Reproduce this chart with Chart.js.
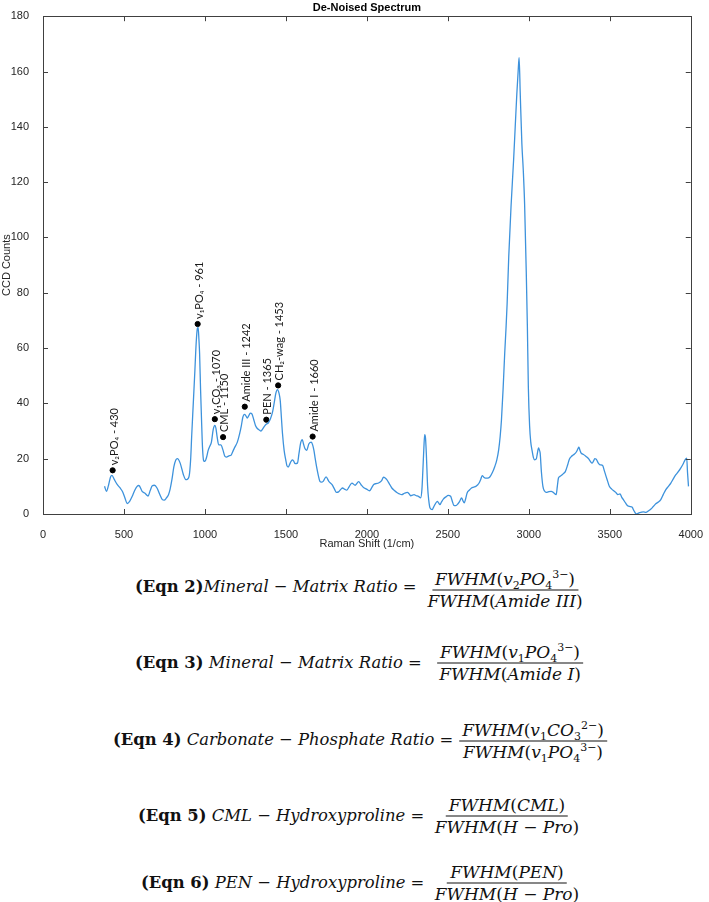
<!DOCTYPE html>
<html>
<head>
<meta charset="utf-8">
<script src="https://cdn.jsdelivr.net/npm/chart.js@4.4.0/dist/chart.umd.min.js"></script>
<style>
  body { margin: 0; background: #fff; }
  #wrap { position: relative; width: 709px; height: 902px; overflow: hidden; }
  #spectrum { position: absolute; left: 0; top: 0; }
  .part { position: absolute; font-family: 'DejaVu Serif', serif; font-size: 16.4px; color: #111; white-space: nowrap; line-height: 19px; }
  .lhs { transform: translateY(-50%); }
  .frac { display: flex; flex-direction: column; align-items: center; transform: translate(-50%, -50%); font-size: 17px; }
  .frac .num { border-bottom: 1px solid #111; padding: 0 3px 1px; }
  .frac .den { padding: 1px 3px 0; }
  i { font-style: italic; }
  sub, sup { font-size: 11px; line-height: 0; }
</style>
</head>
<body>
<div id="wrap">
  <canvas id="spectrum" width="709" height="560"></canvas>

  <div class="part lhs" style="left:135px; top:586px"><b>(Eqn 2)</b><i>Mineral − Matrix Ratio</i> =</div>
  <div class="part frac" style="left:505px; top:590px"><span class="num"><i>FWHM</i>(<i>v</i><sub>2</sub><i>PO</i><sub>4</sub><sup>3−</sup>)</span><span class="den"><i>FWHM</i>(<i>Amide III</i>)</span></div>

  <div class="part lhs" style="left:135px; top:662px"><b>(Eqn 3)</b> <i>Mineral − Matrix Ratio</i> =</div>
  <div class="part frac" style="left:510px; top:663px"><span class="num"><i>FWHM</i>(<i>v</i><sub>1</sub><i>PO</i><sub>4</sub><sup>3−</sup>)</span><span class="den"><i>FWHM</i>(<i>Amide I</i>)</span></div>

  <div class="part lhs" style="left:113px; top:739px"><b>(Eqn 4)</b> <i>Carbonate − Phosphate Ratio</i> =</div>
  <div class="part frac" style="left:533px; top:741px"><span class="num"><i>FWHM</i>(<i>v</i><sub>1</sub><i>CO</i><sub>3</sub><sup>2−</sup>)</span><span class="den"><i>FWHM</i>(<i>v</i><sub>1</sub><i>PO</i><sub>4</sub><sup>3−</sup>)</span></div>

  <div class="part lhs" style="left:138px; top:815px"><b>(Eqn 5)</b> <i>CML − Hydroxyproline</i> =</div>
  <div class="part frac" style="left:507px; top:816px"><span class="num"><i>FWHM</i>(<i>CML</i>)</span><span class="den"><i>FWHM</i>(<i>H − Pro</i>)</span></div>

  <div class="part lhs" style="left:141px; top:882px"><b>(Eqn 6)</b> <i>PEN − Hydroxyproline</i> =</div>
  <div class="part frac" style="left:507px; top:883px"><span class="num"><i>FWHM</i>(<i>PEN</i>)</span><span class="den"><i>FWHM</i>(<i>H − Pro</i>)</span></div>
</div>

<script>
// spectrum (Raman shift in 1/cm, CCD counts)
const ramanShift = [
  380, 392, 405, 418, 426, 440, 459, 475, 490, 505, 520, 535, 551, 566, 581, 592, 612, 630, 649, 662,
  675, 688, 704, 720, 737, 748, 762, 775, 785, 796, 808, 820, 830, 847, 867, 880, 887, 902, 912, 918,
  928, 938, 946, 953, 958, 963, 967, 973, 979, 985, 992, 1000, 1010, 1020, 1030, 1040, 1051, 1061, 1068, 1075,
  1085, 1098, 1112, 1122, 1132, 1148, 1163, 1175, 1183, 1200, 1214, 1225, 1234, 1244, 1253, 1261, 1270, 1280, 1290, 1302,
  1312, 1322, 1335, 1346, 1357, 1367, 1380, 1391, 1405, 1418, 1430, 1438, 1448, 1458, 1465, 1472, 1479, 1489, 1499, 1506,
  1514, 1527, 1540, 1549, 1557, 1571, 1581, 1591, 1601, 1608, 1616, 1628, 1642, 1657, 1665, 1673, 1681, 1689, 1700, 1710,
  1720, 1730, 1748, 1765, 1785, 1800, 1812, 1825, 1840, 1850, 1862, 1875, 1890, 1907, 1928, 1949, 1965, 1979, 1998, 2016,
  2030, 2041, 2057, 2072, 2090, 2103, 2113, 2123, 2138, 2154, 2170, 2185, 2200, 2215, 2232, 2250, 2262, 2271, 2281, 2291,
  2305, 2318, 2332, 2340, 2345, 2352, 2357, 2362, 2367, 2375, 2382, 2390, 2404, 2412, 2420, 2435, 2443, 2451, 2460, 2472,
  2488, 2502, 2517, 2527, 2537, 2548, 2558, 2572, 2585, 2593, 2601, 2610, 2619, 2632, 2646, 2660, 2673, 2683, 2693, 2703,
  2712, 2722, 2732, 2745, 2759, 2775, 2790, 2802, 2814, 2823, 2831, 2841, 2851, 2859, 2866, 2876, 2890, 2906, 2916, 2926,
  2934, 2940, 2947, 2957, 2966, 2974, 2984, 2991, 2997, 3005, 3012, 3019, 3028, 3036, 3046, 3053, 3060, 3066, 3070, 3078,
  3087, 3097, 3108, 3120, 3138, 3155, 3169, 3176, 3183, 3192, 3200, 3212, 3226, 3240, 3251, 3263, 3276, 3288, 3296, 3303,
  3309, 3316, 3323, 3335, 3350, 3360, 3370, 3380, 3391, 3400, 3407, 3415, 3428, 3440, 3456, 3467, 3477, 3487, 3497, 3512,
  3528, 3540, 3549, 3563, 3574, 3584, 3597, 3610, 3625, 3637, 3651, 3665, 3680, 3692, 3708, 3723, 3740, 3754, 3770, 3784,
  3800, 3815, 3830, 3846, 3862, 3877, 3893, 3908, 3923, 3938, 3952, 3965, 3975, 3980, 3986
];
const ccdCounts = [
  10, 8.2, 10.5, 13.6, 14, 12.5, 10.6, 9.5, 8.2, 6, 3.8, 4.6, 6.4, 8.5, 10, 10.3, 8.2, 7.5, 6.5, 8.5,
  10.2, 10.4, 9.4, 7.2, 5.2, 5, 5.8, 7, 9, 12.4, 17, 19.5, 20, 18.4, 14.2, 12.5, 12.4, 13.6, 20, 28,
  40, 52, 62, 67, 67.5, 63, 58, 45, 34, 24, 19.3, 19, 20.5, 23, 24.5, 26, 30.5, 32, 31, 28,
  25, 25, 23, 21, 20.6, 21, 21.4, 23, 24, 26, 29, 32, 35, 36, 35.5, 34.7, 35.5, 36.5, 36.2, 34,
  32, 31, 30.4, 30, 30.8, 31.7, 32.5, 32.9, 34.5, 37, 41, 43.7, 45, 43.5, 41, 35, 29, 23, 19.6, 17.5,
  17, 18.5, 19.6, 19, 18.2, 18.4, 22, 25.7, 26.9, 25.5, 23.9, 23, 25.4, 26, 25, 23, 20, 17.2, 14, 11.8,
  11.5, 11.8, 13.4, 11.8, 10.6, 9, 7.8, 8, 9, 9.4, 9, 8.6, 9.8, 11.2, 10.4, 11.7, 10.5, 9.6, 9, 8.4,
  9.5, 10.6, 11, 11.2, 12, 13.3, 13, 12.4, 11, 9.4, 8.5, 7.8, 7.3, 7, 7.5, 7.8, 7.2, 6.6, 6.8, 7,
  6.6, 6.4, 5.8, 9, 14.8, 24, 28.7, 27.5, 22, 10, 5, 2.2, 1.6, 2.5, 3.4, 4.6, 4, 3.4, 4.3, 5.4,
  6.2, 6.7, 6.4, 4.7, 3.1, 3, 3.4, 4.5, 5.8, 4.8, 4, 5.5, 7.6, 8.6, 9.4, 9.7, 10, 10.5, 11.2, 12.5,
  13.9, 13.3, 13, 13, 13.4, 15, 17.2, 19.5, 23.3, 28, 34, 45, 58, 67, 76, 93, 111, 128, 140, 152,
  160, 165, 152, 134, 124, 112, 88, 68, 46, 31.7, 26, 23.3, 20.5, 19.6, 19.9, 22, 23.9, 23, 22, 15,
  10, 8.3, 7.8, 8, 8.2, 7.6, 7, 10, 13, 13.6, 13.9, 14.5, 15.4, 17.8, 19.9, 20.8, 21.4, 22, 22.7, 23.6,
  24.2, 23, 22, 21.6, 21, 20.5, 19.9, 19, 18.4, 19.2, 20, 19.9, 18.5, 17.8, 17.5, 15.5, 13.6, 11.8, 10, 9,
  8.2, 7.6, 7, 7.3, 6, 5.2, 4, 3, 2.7, 2.5, 1, 0, 0.4, 0.6, 0.8, 0.6, 1.2, 1.8, 2.8, 3.7,
  4.3, 5.2, 7, 8.8, 10, 11.2, 12.8, 14.2, 15.3, 16.6, 18, 19.6, 20.2, 15, 10
];

// marked peaks
const peakShift = [430, 955, 1061, 1112, 1246, 1379, 1452, 1665];
const peakCounts = [15.8, 68.7, 34.3, 27.8, 38.8, 34.1, 46.5, 28];
const peakNames = [
  "v₂PO₄ - 430", "v₁PO₄ - 961", "v₁CO₃ - 1070", "CML - 1150",
  "Amide III - 1242", "PEN - 1365", "CH₂-wag - 1453", "Amide I - 1660"
];

const xTicks = [0, 500, 1000, 1500, 2000, 2500, 3000, 3500, 4000];
const yTicks = [0, 20, 40, 60, 80, 100, 120, 140, 160, 180];

const axisColor = "#404040";
Chart.defaults.font.family = "'Liberation Sans', Arial, sans-serif";
Chart.defaults.font.size = 11;
Chart.defaults.color = "#262626";

// MATLAB style box with inward ticks on all four sides
const boxPlugin = {
  id: "box",
  afterDatasetsDraw(chart) {
    const { ctx, chartArea: a, scales } = chart;
    ctx.save();
    ctx.strokeStyle = axisColor;
    ctx.lineWidth = 1;
    ctx.strokeRect(Math.round(a.left) + 0.5, Math.round(a.top) + 0.5,
      Math.round(a.right - a.left), Math.round(a.bottom - a.top));
    ctx.beginPath();
    scales.x.ticks.forEach(t => {
      const px = Math.round(scales.x.getPixelForValue(t.value)) + 0.5;
      ctx.moveTo(px, a.bottom); ctx.lineTo(px, a.bottom - 5);
      ctx.moveTo(px, a.top); ctx.lineTo(px, a.top + 5);
    });
    scales.y.ticks.forEach(t => {
      const py = Math.round(scales.y.getPixelForValue(t.value)) + 0.5;
      ctx.moveTo(a.left, py); ctx.lineTo(a.left + 5, py);
      ctx.moveTo(a.right, py); ctx.lineTo(a.right - 5, py);
    });
    ctx.stroke();
    ctx.restore();
  }
};

// rotated peak labels, drawn just above each dot
const peakLabelPlugin = {
  id: "peakLabels",
  afterDatasetsDraw(chart) {
    const { ctx, scales } = chart;
    ctx.save();
    ctx.fillStyle = "#1a1a1a";
    ctx.font = "11px Lato, 'Noto Sans', 'DejaVu Sans', sans-serif";
    ctx.textAlign = "left";
    ctx.textBaseline = "middle";
    peakShift.forEach((x, i) => {
      const px = scales.x.getPixelForValue(x);
      const py = scales.y.getPixelForValue(peakCounts[i]);
      ctx.save();
      ctx.translate(px + 1.5, py - 5);
      ctx.rotate(-Math.PI / 2);
      ctx.fillText(peakNames[i], 0, 0);
      ctx.restore();
    });
    ctx.restore();
  }
};

new Chart(document.getElementById("spectrum"), {
  type: "line",
  data: {
    datasets: [
      {
        label: "De-noised",
        data: ramanShift.map((x, i) => ({ x: x, y: ccdCounts[i] })),
        borderColor: "#3d92dc",
        borderWidth: 1.3,
        pointRadius: 0,
        cubicInterpolationMode: "monotone",
        fill: false
      },
      {
        type: "scatter",
        label: "Peaks",
        data: peakShift.map((x, i) => ({ x: x, y: peakCounts[i] })),
        backgroundColor: "#000",
        borderColor: "#000",
        pointRadius: 2.6,
        showLine: false
      }
    ]
  },
  options: {
    responsive: false,
    animation: false,
    layout: { padding: { left: 0, right: 14, top: 0, bottom: 9 } },
    plugins: {
      legend: { display: false },
      tooltip: { enabled: false },
      title: {
        display: true,
        fullSize: false,
        text: "De-Noised Spectrum",
        color: "#000",
        font: { size: 11, weight: "bold" },
        padding: { top: 1, bottom: 2 }
      }
    },
    scales: {
      x: {
        type: "linear",
        min: 0,
        max: 4000,
        afterBuildTicks: s => { s.ticks = xTicks.map(v => ({ value: v })); },
        afterFit: s => { s.height = 37; },
        ticks: { padding: 6, maxRotation: 0, callback: v => String(v) },
        grid: { display: false },
        border: { display: false },
        title: { display: true, text: "Raman Shift (1/cm)", padding: { top: 3, bottom: 0 } }
      },
      y: {
        min: 0,
        max: 180,
        afterBuildTicks: s => { s.ticks = yTicks.map(v => ({ value: v })); },
        afterFit: s => { s.width = 43; },
        ticks: { padding: 6, callback: v => String(v) },
        grid: { display: false },
        border: { display: false },
        title: { display: true, text: "CCD Counts", padding: 0 }
      }
    }
  },
  plugins: [boxPlugin, peakLabelPlugin]
});
</script>
</body>
</html>
